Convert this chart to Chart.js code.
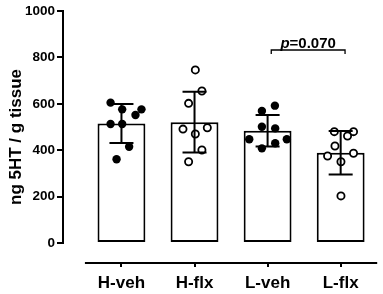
<!DOCTYPE html>
<html>
<head>
<meta charset="utf-8">
<script src="https://cdn.jsdelivr.net/npm/chart.js@4.4.1/dist/chart.umd.min.js"></script>
<style>
  html, body { margin: 0; padding: 0; background: #fff; }
  #wrap { width: 383px; height: 294px; }
</style>
</head>
<body>
<div id="wrap"><canvas id="c"></canvas></div>
<script>
// groupes et valeurs
const groups = ['H-veh', 'H-flx', 'L-veh', 'L-flx'];
const means = [515, 521, 484, 389];
const sds = [84, 131, 68, 94];
const yTicks = [0, 200, 400, 600, 800, 1000];

// points individuels (veh = pleins, flx = vides), décalage horizontal en unités de groupe
const hVeh = [605, 576, 576, 552, 513, 513, 415, 361];
const hVehJitter = [-0.149, 0.01, 0.274, 0.192, -0.149, 0.01, 0.105, -0.067];
const hFlx = [746, 655, 602, 491, 497, 470, 401, 350];
const hFlxJitter = [0.011, 0.101, -0.081, -0.158, 0.175, 0.011, 0.101, -0.081];
const lVeh = [592, 569, 501, 494, 447, 447, 430, 408];
const lVehJitter = [0.1, -0.078, -0.078, 0.104, -0.251, 0.263, 0.104, -0.078];
const lFlx = [480, 480, 461, 418, 375, 387, 350, 203];
const lFlxJitter = [-0.087, 0.176, 0.094, -0.078, -0.179, 0.176, 0.004, 0.004];

const pLabel = '0.070';
const pGroups = [2, 3];
const pBracketY = 832;

const FONT = "'Liberation Sans', Arial, Helvetica, sans-serif";

function pts(vals, jit, g) {
  return vals.map((v, i) => ({ x: g + jit[i], y: v }));
}

const extras = {
  id: 'extras',
  afterDatasetsDraw(chart) {
    const { ctx, chartArea } = chart;
    const x = chart.scales.x, y = chart.scales.y;
    ctx.save();
    ctx.strokeStyle = '#000';
    ctx.lineWidth = 2;
    ctx.lineCap = 'butt';

    // axe Y (0 à 1000)
    ctx.beginPath();
    ctx.moveTo(chartArea.left, y.getPixelForValue(1000) - 1);
    ctx.lineTo(chartArea.left, y.getPixelForValue(0) + 1);
    ctx.stroke();

    // axe X détaché
    ctx.beginPath();
    ctx.moveTo(x.getPixelForValue(-0.5), chartArea.bottom);
    ctx.lineTo(x.getPixelForValue(groups.length - 0.5), chartArea.bottom);
    ctx.stroke();

    // barres d'erreur (moyenne ± SD)
    means.forEach((m, i) => {
      const cx = x.getPixelForValue(i);
      const top = y.getPixelForValue(m + sds[i]);
      const bot = y.getPixelForValue(m - sds[i]);
      ctx.beginPath();
      ctx.moveTo(cx, top); ctx.lineTo(cx, bot);
      ctx.moveTo(cx - 12, top); ctx.lineTo(cx + 12, top);
      ctx.moveTo(cx - 12, bot); ctx.lineTo(cx + 12, bot);
      ctx.stroke();
    });

    // crochet p
    const x1 = x.getPixelForValue(pGroups[0] + 0.05);
    const x2 = x.getPixelForValue(pGroups[1] + 0.06);
    const by = y.getPixelForValue(pBracketY);
    ctx.lineWidth = 1.3;
    ctx.beginPath();
    ctx.moveTo(x1, by + 4); ctx.lineTo(x1, by); ctx.lineTo(x2, by); ctx.lineTo(x2, by + 4);
    ctx.stroke();

    ctx.fillStyle = '#000';
    ctx.textBaseline = 'alphabetic';
    ctx.font = 'italic bold 15px ' + FONT;
    const pw = ctx.measureText('p').width;
    ctx.font = 'bold 15px ' + FONT;
    const rw = ctx.measureText('=' + pLabel).width;
    const tx = (x1 + x2) / 2 - (pw + rw) / 2;
    ctx.font = 'italic bold 15px ' + FONT;
    ctx.fillText('p', tx, by - 2);
    ctx.font = 'bold 15px ' + FONT;
    ctx.fillText('=' + pLabel, tx + pw, by - 2);
    ctx.restore();
  }
};

new Chart(document.getElementById('c'), {
  type: 'bar',
  data: {
    datasets: [
      {
        type: 'scatter',
        data: [...pts(hVeh, hVehJitter, 0), ...pts(lVeh, lVehJitter, 2)],
        pointRadius: 4.2,
        pointBorderWidth: 0,
        pointBackgroundColor: '#000',
        pointBorderColor: '#000',
        order: 0
      },
      {
        type: 'scatter',
        data: [...pts(hFlx, hFlxJitter, 1), ...pts(lFlx, lFlxJitter, 3)],
        pointRadius: 3.6,
        pointBorderWidth: 1.8,
        pointBackgroundColor: '#fff',
        pointBorderColor: '#000',
        order: 1
      },
      {
        type: 'bar',
        data: means.map((m, i) => ({ x: i, y: m })),
        backgroundColor: '#fff',
        borderColor: '#000',
        borderWidth: 2,
        borderSkipped: false,
        categoryPercentage: 1,
        barPercentage: 0.655,
        order: 2
      }
    ]
  },
  options: {
    responsive: true, maintainAspectRatio: false,
    animation: false,
    layout: { padding: { left: 0, right: 5, top: 11, bottom: 0 } },
    plugins: { legend: { display: false }, tooltip: { enabled: false } },
    scales: {
      x: {
        type: 'linear',
        offset: false,
        min: -0.8, max: 3.5,
        afterBuildTicks: s => { s.ticks = groups.map((g, i) => ({ value: i })); },
        afterFit: s => { s.height = 31; },
        border: { display: false },
        grid: { offset: false, drawOnChartArea: false, drawTicks: true, tickLength: 4, color: '#000', lineWidth: 2 },
        ticks: {
          padding: 6,
          color: '#000',
          font: { family: FONT, size: 17, weight: 'bold' },
          callback: v => groups[v]
        }
      },
      y: {
        min: -86.2, max: 1000,
        afterBuildTicks: s => { s.ticks = yTicks.map(v => ({ value: v })); },
        afterFit: s => { s.width = 63; },
        border: { display: false },
        grid: { drawOnChartArea: false, drawTicks: true, tickLength: 6, color: '#000', lineWidth: 2 },
        ticks: {
          padding: 2,
          color: '#000',
          font: { family: FONT, size: 13.5, weight: 'bold' },
          callback: v => String(v)
        },
        title: {
          display: true,
          text: 'ng 5HT / g tissue',
          color: '#000',
          padding: { top: 6, bottom: 0 },
          font: { family: FONT, size: 17, weight: 'bold' }
        }
      }
    }
  },
  plugins: [extras]
});
</script>
</body>
</html>
